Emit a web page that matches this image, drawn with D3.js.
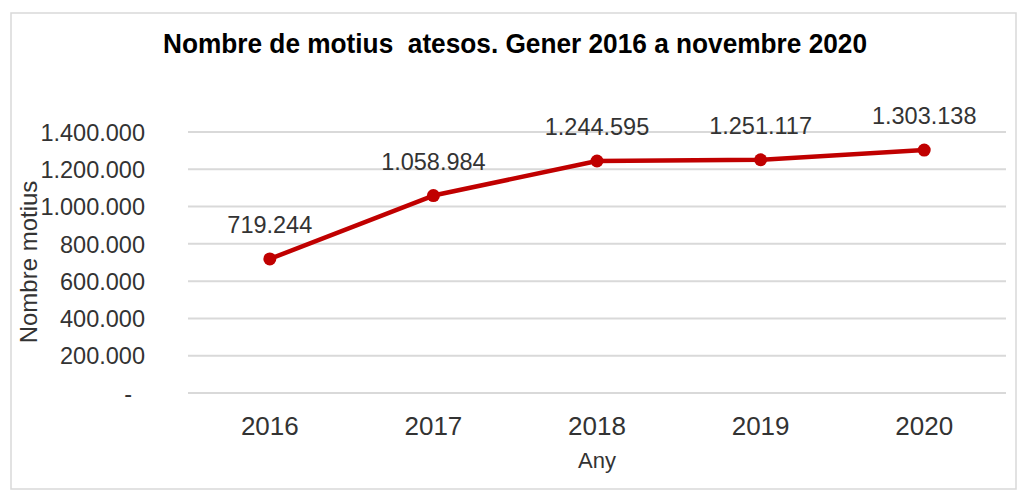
<!DOCTYPE html>
<html>
<head>
<meta charset="utf-8">
<script src="https://cdn.jsdelivr.net/npm/d3@7"></script>
<style>
  html, body { margin: 0; padding: 0; background: #fff; }
  svg { display: block; }
</style>
</head>
<body>
<svg id="chart" width="1018" height="491"></svg>
<script>
const years = ["2016", "2017", "2018", "2019", "2020"];
const values = [719244, 1058984, 1244595, 1251117, 1303138];
const yTicks = [0, 200000, 400000, 600000, 800000, 1000000, 1200000, 1400000];
const titleText = "Nombre de motius  atesos. Gener 2016 a novembre 2020";
const xTitle = "Any";
const yTitle = "Nombre motius";

const W = 1018, H = 491;
const margin = { left: 188, right: 12, top: 132, bottom: 98 };
const svg = d3.select("#chart");
const textColor = "#333333";

const loc = d3.formatLocale({ decimal: ",", thousands: ".", grouping: [3], currency: ["", "€"] });
const fmt = loc.format(",d");

// outer border
svg.append("rect")
  .attr("x", 11).attr("y", 13).attr("width", 1005).attr("height", 476)
  .attr("fill", "#fff").attr("stroke", "#d9d9d9").attr("stroke-width", 1.5);

const x = d3.scaleBand().domain(years).range([margin.left, W - margin.right]);
const y = d3.scaleLinear().domain([0, 1400000]).range([H - margin.bottom, margin.top]);

// gridlines
svg.append("g").selectAll("line").data(yTicks).join("line")
  .attr("x1", margin.left).attr("x2", W - margin.right)
  .attr("y1", d => y(d)).attr("y2", d => y(d))
  .attr("stroke", "#d9d9d9").attr("stroke-width", 2);

// y axis labels
const yAxis = d3.axisLeft(y).tickValues(yTicks).tickSize(0).tickPadding(0)
  .tickFormat(d => d === 0 ? "-" : fmt(d));
const gy = svg.append("g").attr("transform", "translate(145,0)").call(yAxis);
gy.select(".domain").remove();
gy.selectAll("text")
  .attr("font-family", "'Liberation Sans', Arial, sans-serif")
  .attr("font-size", 23.5).attr("fill", textColor).attr("dy", "0.35em")
  .attr("dx", d => d === 0 ? -13 : 0);

// x axis labels
const xAxis = d3.axisBottom(x).tickSize(0).tickPadding(0);
const gx = svg.append("g").attr("transform", "translate(0,435)").call(xAxis);
gx.select(".domain").remove();
gx.selectAll("text")
  .attr("font-family", "'Liberation Sans', Arial, sans-serif")
  .attr("font-size", 26).attr("fill", textColor).attr("dy", 0);

// line
const cx = d => x(d) + x.bandwidth() / 2;
const data = years.map((yr, i) => ({ yr, v: values[i] }));
svg.append("path").datum(data)
  .attr("fill", "none").attr("stroke", "#c00000").attr("stroke-width", 4.5)
  .attr("stroke-linejoin", "round")
  .attr("d", d3.line().x(d => cx(d.yr)).y(d => y(d.v)));

svg.append("g").selectAll("circle").data(data).join("circle")
  .attr("cx", d => cx(d.yr)).attr("cy", d => y(d.v)).attr("r", 6.5)
  .attr("fill", "#c00000");

// data labels
svg.append("g").selectAll("text").data(data).join("text")
  .attr("x", d => cx(d.yr)).attr("y", d => y(d.v) - 26)
  .attr("text-anchor", "middle")
  .attr("font-family", "'Liberation Sans', Arial, sans-serif")
  .attr("font-size", 23.5).attr("fill", textColor)
  .text(d => fmt(d.v));

// title
svg.append("text")
  .attr("x", 515).attr("y", 53).attr("text-anchor", "middle")
  .attr("font-family", "'Liberation Sans', Arial, sans-serif")
  .attr("font-weight", "bold").attr("font-size", 27).attr("fill", "#000")
  .attr("textLength", 704).attr("lengthAdjust", "spacingAndGlyphs")
  .style("white-space", "pre")
  .text(titleText);

// axis titles
svg.append("text")
  .attr("x", 597).attr("y", 468).attr("text-anchor", "middle")
  .attr("font-family", "'Liberation Sans', Arial, sans-serif")
  .attr("font-size", 22).attr("fill", textColor)
  .text(xTitle);

svg.append("text")
  .attr("transform", "translate(37,262) rotate(-90)")
  .attr("text-anchor", "middle")
  .attr("font-family", "'Liberation Sans', Arial, sans-serif")
  .attr("font-size", 24).attr("fill", textColor)
  .text(yTitle);
</script>
</body>
</html>
